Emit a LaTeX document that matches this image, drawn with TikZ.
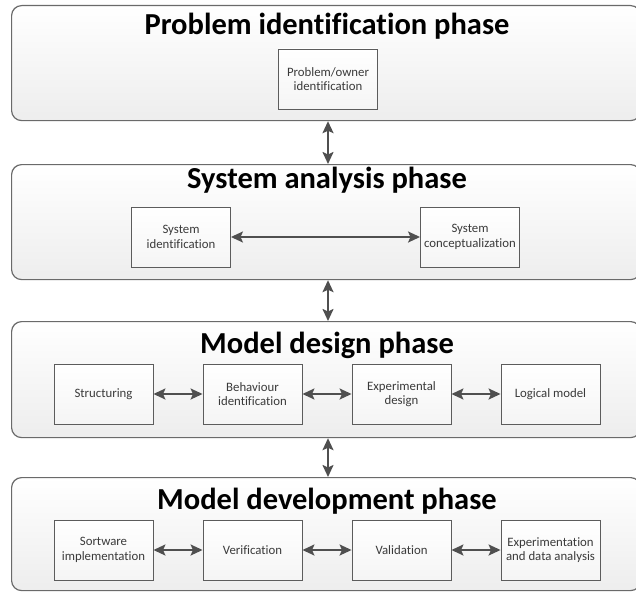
\documentclass[tikz,border=0pt]{standalone}
\usepackage{fontspec}
\setmainfont[Ligatures=NoCommon]{Carlito}
\usetikzlibrary{arrows.meta}
\definecolor{phaseline}{HTML}{6A6A6A}
\definecolor{blkline}{HTML}{5C5C5C}
\definecolor{arrowgray}{HTML}{4F4F4F}
\definecolor{txtgray}{HTML}{3A3A3A}
\tikzset{
  phase/.style={draw=phaseline, line width=1.2pt, rounded corners=10pt,
    top color=white, bottom color=black!7, anchor=north west,
    minimum width=629pt, inner sep=0pt},
  phasetitle/.style={font=\bfseries\fontsize{30.5}{36}\selectfont, text=black,
    anchor=base, inner sep=0pt},
  blk/.style={draw=blkline, line width=0.9pt, top color=white,
    bottom color=black!4, minimum width=99pt, minimum height=60pt,
    align=center, inner sep=2pt, text=txtgray,
    font=\fontsize{12.8}{14.5}\selectfont},
  arr/.style={draw=arrowgray, line width=2pt,
    {Stealth[length=12pt,width=11pt,inset=2.5pt]}-{Stealth[length=12pt,width=11pt,inset=2.5pt]}},
}
\begin{document}
\begin{tikzpicture}[x=1pt,y=-1pt]
\useasboundingbox (0,0) rectangle (636,591);
\fill[white] (0,0) rectangle (636,591);
\clip (0,0) rectangle (636,591);

% phase panels
\node[phase, minimum height=115pt] (ph1) at (11,5) {};
\node[phase, minimum height=115pt] (ph2) at (11,164) {};
\node[phase, minimum height=116pt] (ph3) at (11,321) {};
\node[phase, minimum height=113pt] (ph4) at (11,477) {};

% panel headings
\node[phasetitle] (t1) at (327,35) {Problem identification phase};
\node[phasetitle] (t2) at (327,188) {System analysis phase};
\node[phasetitle] (t3) at (327,353) {Model design phase};
\node[phasetitle] (t4) at (327,509) {Model development phase};

% problem identification
\node[blk] (pown) at (328,79) {Problem/owner\\identification};

% system analysis
\node[blk] (sysid) at (181,237) {System\\identification};
\node[blk] (syscon) at (470,237) {System\\conceptualization};

% model design
\node[blk] (struct) at (103.5,394) {Structuring};
\node[blk] (behav) at (252.5,394) {Behaviour\\identification};
\node[blk] (expd) at (401.5,394) {Experimental\\design};
\node[blk] (logic) at (550.5,394) {Logical model};

% model development
\node[blk] (soft) at (103.5,550) {Sortware\\implementation};
\node[blk] (verif) at (252.5,550) {Verification};
\node[blk] (valid) at (401.5,550) {Validation};
\node[blk] (exper) at (550.5,550) {Experimentation\\and data analysis};

% links between phases
\draw[arr] (ph1.south -| pown) -- (ph2.north -| pown);
\draw[arr] (ph2.south -| pown) -- (ph3.north -| pown);
\draw[arr] (ph3.south -| pown) -- (ph4.north -| pown);

% links inside phases
\draw[arr] (sysid) -- (syscon);
\draw[arr] (struct) -- (behav);
\draw[arr] (behav) -- (expd);
\draw[arr] (expd) -- (logic);
\draw[arr] (soft) -- (verif);
\draw[arr] (verif) -- (valid);
\draw[arr] (valid) -- (exper);
\end{tikzpicture}
\end{document}
